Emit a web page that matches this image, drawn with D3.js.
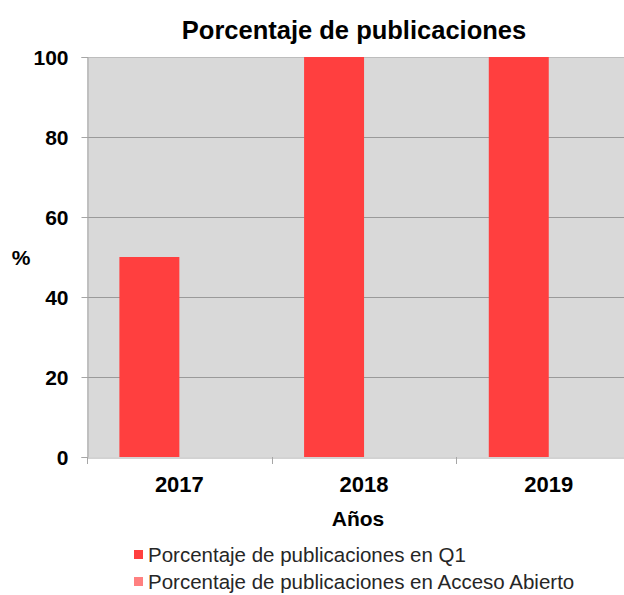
<!DOCTYPE html>
<html>
<head>
<meta charset="utf-8">
<script src="https://cdn.jsdelivr.net/npm/d3@7"></script>
<style>
  html, body { margin: 0; padding: 0; background: #fff; }
  svg { display: block; font-family: "Liberation Sans", Arial, sans-serif; }
</style>
</head>
<body>
<div id="chart"></div>
<script>
const years = ['2017', '2018', '2019'];
const seriesNames = ['Porcentaje de publicaciones en Q1', 'Porcentaje de publicaciones en Acceso Abierto'];
const q1Values = [50, 100, 100];
const openAccessValues = [0, 0, 0];
const yTicks = [0, 20, 40, 60, 80, 100];

const width = 624, height = 595;
const plot = { left: 87, top: 57, bottom: 457, band: 184.7 };
const colors = ['#ff3f3f', '#ff8080'];

const svg = d3.select('#chart').append('svg')
    .attr('width', width)
    .attr('height', height);

// Scales
const x = d3.scaleBand()
    .domain(years)
    .range([plot.left, plot.left + plot.band * years.length])
    .padding(0);

const xInner = d3.scaleBand()
    .domain(seriesNames)
    .range([0, x.bandwidth()])
    .paddingInner(0)
    .paddingOuter(0.54);

const y = d3.scaleLinear()
    .domain([0, 100])
    .range([plot.bottom, plot.top]);

// Plot background
svg.append('rect')
    .attr('x', plot.left)
    .attr('y', plot.top)
    .attr('width', x.range()[1] - plot.left)
    .attr('height', plot.bottom - plot.top)
    .attr('fill', '#d9d9d9');

// Gridlines
svg.append('g')
    .selectAll('line')
    .data(yTicks.filter(d => d > 0))
    .join('line')
    .attr('x1', plot.left)
    .attr('x2', x.range()[1])
    .attr('y1', d => Math.round(y(d)) + 0.5)
    .attr('y2', d => Math.round(y(d)) + 0.5)
    .attr('stroke', d => d === 100 ? '#bdbdbd' : '#9a9a9a')
    .attr('stroke-width', 1);

// Bars
const data = years.map((yr, i) => ({
    year: yr,
    values: [q1Values[i], openAccessValues[i]]
}));

svg.append('g')
    .selectAll('g')
    .data(data)
    .join('g')
    .attr('transform', d => `translate(${x(d.year)},0)`)
    .selectAll('rect')
    .data(d => d.values.map((v, j) => ({ name: seriesNames[j], value: v, j })))
    .join('rect')
    .attr('x', d => xInner(d.name))
    .attr('y', d => y(d.value))
    .attr('width', xInner.bandwidth())
    .attr('height', d => y(0) - y(d.value))
    .attr('fill', d => colors[d.j]);

// Y axis
const yAxis = d3.axisLeft(y)
    .tickValues(yTicks)
    .tickSize(6)
    .tickPadding(13);

svg.append('g')
    .attr('transform', `translate(${plot.left + 0.5},0)`)
    .call(yAxis)
    .call(g => g.select('.domain').attr('stroke', '#a6a6a6'))
    .call(g => g.selectAll('.tick line').attr('stroke', '#a6a6a6'))
    .call(g => g.selectAll('.tick text')
        .attr('font-size', 21)
        .attr('font-weight', 'bold')
        .attr('fill', '#000')
        .attr('dy', '0.36em')
        .attr('font-family', '"Liberation Sans", Arial, sans-serif'));

// X axis
const xAxis = d3.axisBottom(x)
    .tickSize(0)
    .tickPadding(18);

svg.append('g')
    .attr('transform', `translate(0,${plot.bottom + 0.5})`)
    .call(xAxis)
    .call(g => g.select('.domain').attr('stroke', '#a6a6a6'))
    .call(g => g.selectAll('.tick text')
        .attr('font-size', 22)
        .attr('font-weight', 'bold')
        .attr('fill', '#000')
        .attr('y', 34)
        .attr('dy', 0)
        .attr('font-family', '"Liberation Sans", Arial, sans-serif'));

// Category separators (tick marks at band edges)
svg.append('g')
    .selectAll('line')
    .data(years)
    .join('line')
    .attr('x1', d => Math.round(x(d)) + 0.5)
    .attr('x2', d => Math.round(x(d)) + 0.5)
    .attr('y1', plot.bottom)
    .attr('y2', plot.bottom + 7)
    .attr('stroke', '#a6a6a6');

// Title
svg.append('text')
    .attr('x', 354)
    .attr('y', 39)
    .attr('text-anchor', 'middle')
    .attr('font-size', 25.5)
    .attr('font-weight', 'bold')
    .attr('fill', '#000')
    .text('Porcentaje de publicaciones');

// Axis titles
svg.append('text')
    .attr('x', 21)
    .attr('y', 265)
    .attr('text-anchor', 'middle')
    .attr('font-size', 21)
    .attr('font-weight', 'bold')
    .attr('fill', '#000')
    .text('%');

svg.append('text')
    .attr('x', 358)
    .attr('y', 526)
    .attr('text-anchor', 'middle')
    .attr('font-size', 21)
    .attr('font-weight', 'bold')
    .attr('fill', '#000')
    .text('Años');

// Legend
const legend = svg.append('g')
    .selectAll('g')
    .data(seriesNames)
    .join('g')
    .attr('transform', (d, i) => `translate(134,${550 + i * 27})`);

legend.append('rect')
    .attr('width', 9)
    .attr('height', 9)
    .attr('y', 0)
    .attr('fill', (d, i) => colors[i]);

legend.append('text')
    .attr('x', 14)
    .attr('y', 12)
    .attr('font-size', 20.5)
    .attr('fill', '#262626')
    .text(d => d);
</script>
</body>
</html>
